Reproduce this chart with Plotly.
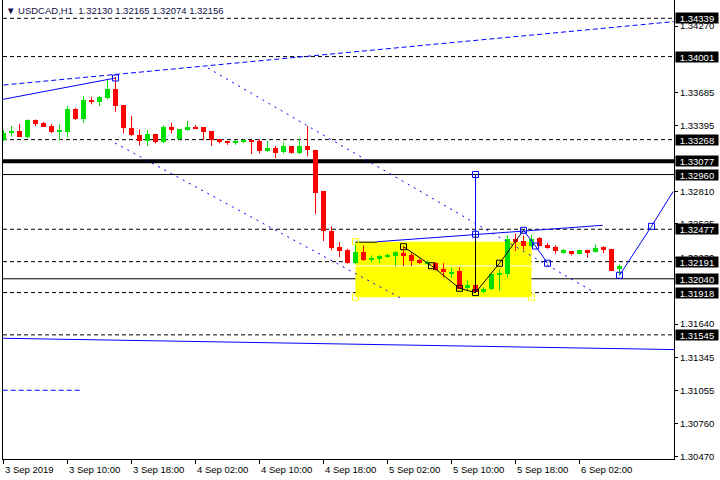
import plotly.graph_objects as go

# ---------------- candle data (USDCAD H1) ----------------
opens = [1.33264, 1.33323, 1.33343, 1.33293, 1.33441, 1.33414, 1.33388, 1.33340, 1.33337, 1.33538,
         1.33450, 1.33618, 1.33600, 1.33638, 1.33715, 1.33574, 1.33370, 1.33308, 1.33252, 1.33317,
         1.33243, 1.33376, 1.33275, 1.33355, 1.33379, 1.33379, 1.33346, 1.33273, 1.33258, 1.33244,
         1.33243, 1.33258, 1.33258, 1.33169, 1.33190, 1.33158, 1.33211, 1.33151, 1.33211, 1.33175,
         1.32815, 1.32458, 1.32319, 1.32290, 1.32178, 1.32275, 1.32208, 1.32217, 1.32231, 1.32237,
         1.32270, 1.32246, 1.32202, 1.32172, 1.32178, 1.32122, 1.32089, 1.32113, 1.31957, 1.31981,
         1.31921, 1.31948, 1.32069, 1.32084, 1.32394, 1.32373, 1.32326, 1.32396, 1.32337, 1.32319,
         1.32266, 1.32281, 1.32261, 1.32290, 1.32275, 1.32319, 1.32299, 1.32130]
highs = [1.33352, 1.33388, 1.33405, 1.33447, 1.33446, 1.33426, 1.33405, 1.33405, 1.33565, 1.33550,
         1.33653, 1.33647, 1.33653, 1.33795, 1.33821, 1.33574, 1.33476, 1.33358, 1.33352, 1.33317,
         1.33394, 1.33417, 1.33361, 1.33432, 1.33396, 1.33379, 1.33346, 1.33273, 1.33258, 1.33264,
         1.33270, 1.33261, 1.33270, 1.33258, 1.33211, 1.33243, 1.33211, 1.33273, 1.33388, 1.33175,
         1.32815, 1.32503, 1.32364, 1.32305, 1.32350, 1.32335, 1.32246, 1.32252, 1.32261, 1.32281,
         1.32328, 1.32275, 1.32217, 1.32202, 1.32187, 1.32178, 1.32137, 1.32142, 1.32025, 1.31981,
         1.31965, 1.32078, 1.32122, 1.32423, 1.32438, 1.32423, 1.32429, 1.32408, 1.32358, 1.32335,
         1.32305, 1.32281, 1.32299, 1.32296, 1.32343, 1.32328, 1.32304, 1.32165]
lows = [1.33255, 1.33293, 1.33290, 1.33279, 1.33388, 1.33379, 1.33326, 1.33264, 1.33288, 1.33441,
        1.33417, 1.33580, 1.33567, 1.33624, 1.33514, 1.33323, 1.33299, 1.33217, 1.33213, 1.33235,
        1.33235, 1.33323, 1.33264, 1.33346, 1.33361, 1.33264, 1.33213, 1.33235, 1.33222, 1.33222,
        1.33235, 1.33140, 1.33146, 1.33160, 1.33104, 1.33146, 1.33144, 1.33140, 1.33118, 1.32609,
        1.32373, 1.32290, 1.32231, 1.32172, 1.32172, 1.32197, 1.32187, 1.32178, 1.32226, 1.32151,
        1.32151, 1.32151, 1.32172, 1.32166, 1.32113, 1.32054, 1.32049, 1.31950, 1.31936, 1.31918,
        1.31916, 1.31943, 1.31936, 1.32049, 1.32284, 1.32296, 1.32319, 1.32326, 1.32305, 1.32261,
        1.32261, 1.32246, 1.32255, 1.32226, 1.32270, 1.32266, 1.32109, 1.32074]
closes = [1.33328, 1.33343, 1.33293, 1.33441, 1.33405, 1.33381, 1.33337, 1.33345, 1.33535, 1.33450,
          1.33618, 1.33600, 1.33642, 1.33715, 1.33567, 1.33367, 1.33305, 1.33252, 1.33317, 1.33243,
          1.33376, 1.33352, 1.33361, 1.33379, 1.33370, 1.33337, 1.33264, 1.33249, 1.33240, 1.33248,
          1.33261, 1.33252, 1.33169, 1.33196, 1.33151, 1.33211, 1.33151, 1.33211, 1.33180, 1.32797,
          1.32461, 1.32308, 1.32284, 1.32178, 1.32275, 1.32202, 1.32226, 1.32240, 1.32249, 1.32275,
          1.32237, 1.32196, 1.32178, 1.32190, 1.32119, 1.32098, 1.32098, 1.31951, 1.31981, 1.31924,
          1.31951, 1.32078, 1.32089, 1.32394, 1.32364, 1.32326, 1.32394, 1.32328, 1.32308, 1.32284,
          1.32290, 1.32255, 1.32290, 1.32275, 1.32314, 1.32296, 1.32113, 1.32156]
bar_index = list(range(len(opens)))

xtick_bars = [0, 8, 16, 24, 32, 40, 48, 56, 64, 72]
xtick_labels = ["3 Sep 2019", "3 Sep 10:00", "3 Sep 18:00", "4 Sep 02:00", "4 Sep 10:00",
                "4 Sep 18:00", "5 Sep 02:00", "5 Sep 10:00", "5 Sep 18:00", "6 Sep 02:00"]
ytick_values = [1.34270, 1.33685, 1.33395, 1.32810, 1.32525, 1.32230,
                1.31640, 1.31345, 1.31055, 1.30760, 1.30470]

# horizontal levels (with price boxes on the axis)
level_prices = [1.34339, 1.34001, 1.33268, 1.33077, 1.32960, 1.32477, 1.32191, 1.32040, 1.31918, 1.31545]
solid_levels = [1.32960, 1.32040]
thick_levels = [1.33077]

# drawing objects (bar index, price)
left_solid_bars, left_solid_prices = [-1, 14], [1.33611, 1.33812]
long_dash_bars, long_dash_prices = [0, 84], [1.33750, 1.34311]
upper_chan_bars, upper_chan_prices = [25.56, 73.56], [1.33900, 1.31932]
lower_chan_bars, lower_chan_prices = [13.94, 49.56], [1.33238, 1.31873]
wedge_black_bars, wedge_black_prices = [44, 46.7], [1.32363, 1.32363]
wedge_bars, wedge_prices = [46.7, 74.9], [1.32367, 1.32512]
vert_blue_bars, vert_blue_prices = [59, 59], [1.32960, 1.32433]
vert_black_bars, vert_black_prices = [59, 59], [1.32433, 1.31918]
zigzag_bars = [50, 53.5, 57, 59, 62, 65]
zigzag_prices = [1.32323, 1.32155, 1.31956, 1.31918, 1.32177, 1.32468]
blue_leg_bars, blue_leg_prices = [65, 66.5, 68], [1.32468, 1.32329, 1.32177]
proj_bars, proj_prices = [77, 81, 83.7], [1.32071, 1.32503, 1.32810]
bottom_line_bars, bottom_line_prices = [-1, 84], [1.31516, 1.31415]
short_dash_bars, short_dash_prices = [-0.1, 9.9], [1.31056, 1.31056]
box_bars = [44, 66]
box_top_prices = [1.32157, 1.32367]
box_bottom_prices = [1.31877, 1.32148]

blue_sq_bars = [14, 59, 59, 65, 66.5, 68, 77, 81]
blue_sq_prices = [1.33812, 1.32960, 1.32433, 1.32468, 1.32329, 1.32177, 1.32071, 1.32503]
black_sq_bars = [50, 53.5, 57, 59, 62]
black_sq_prices = [1.32323, 1.32155, 1.31956, 1.31918, 1.32177]
yellow_sq_bars = [44, 44, 66]
yellow_sq_prices = [1.32367, 1.31877, 1.31877]

header = "\u25bc USDCAD,H1 \u00a01.32130 1.32165 1.32074 1.32156"

# ---------------- figure ----------------
UP = "#00e000"
DOWN = "#ff0000"
BLUE = "#0000ff"
FONT = "Liberation Sans, Arial, sans-serif"
MIN_BODY = 0.00009

fig = go.Figure()

for color, is_up in ((UP, True), (DOWN, False)):
    idx = [i for i in bar_index if (closes[i] >= opens[i]) == is_up]
    fig.add_trace(go.Bar(
        x=idx,
        base=[min(opens[i], closes[i]) for i in idx],
        y=[max(abs(closes[i] - opens[i]), MIN_BODY) for i in idx],
        width=0.62, marker=dict(color=color, line=dict(width=0)),
        hoverinfo="skip"))
    wx, wy = [], []
    for i in idx:
        wx += [i, i, None]
        wy += [lows[i], highs[i], None]
    fig.add_trace(go.Scatter(x=wx, y=wy, mode="lines", line=dict(color=color, width=1),
                             hoverinfo="skip"))


def add_line(xs, ys, color, dash="solid", width=1):
    fig.add_trace(go.Scatter(x=xs, y=ys, mode="lines",
                             line=dict(color=color, width=width, dash=dash), hoverinfo="skip"))


add_line(left_solid_bars, left_solid_prices, BLUE)
add_line(long_dash_bars, long_dash_prices, BLUE, "5px,3px")
add_line(upper_chan_bars, upper_chan_prices, BLUE, "2px,5px")
add_line(lower_chan_bars, lower_chan_prices, BLUE, "2px,5px")
add_line(wedge_black_bars, wedge_black_prices, "black")
add_line(wedge_bars, wedge_prices, BLUE)
add_line(vert_blue_bars, vert_blue_prices, BLUE)
add_line(vert_black_bars, vert_black_prices, "black")
add_line(zigzag_bars, zigzag_prices, "black")
add_line(blue_leg_bars, blue_leg_prices, BLUE)
add_line(proj_bars, proj_prices, BLUE)
add_line(bottom_line_bars, bottom_line_prices, BLUE)
add_line(short_dash_bars, short_dash_prices, BLUE, "5px,3px")

for xs, ys, col in ((blue_sq_bars, blue_sq_prices, BLUE),
                    (black_sq_bars, black_sq_prices, "black"),
                    (yellow_sq_bars, yellow_sq_prices, "#ffff00")):
    fig.add_trace(go.Scatter(x=xs, y=ys, mode="markers",
                             marker=dict(symbol="square-open", size=6, color=col,
                                         line=dict(width=1, color=col)),
                             hoverinfo="skip"))

shapes = []
for lo_hi in (box_top_prices, box_bottom_prices):
    shapes.append(dict(type="rect", xref="x", yref="y", x0=box_bars[0], x1=box_bars[1],
                       y0=lo_hi[0], y1=lo_hi[1], fillcolor="#ffff00", line=dict(width=0),
                       layer="below"))
for p in level_prices:
    if p in thick_levels:
        ln = dict(color="black", width=4)
    elif p in solid_levels:
        ln = dict(color="black", width=1)
    else:
        ln = dict(color="black", width=1, dash="4px,3px")
    shapes.append(dict(type="line", xref="paper", yref="y", x0=0, x1=1, y0=p, y1=p,
                       line=ln, layer="below"))

annotations = []
for b, lab in zip(xtick_bars, xtick_labels):
    annotations.append(dict(x=b, y=0, xref="x", yref="paper", text=lab, showarrow=False,
                            xanchor="left", yanchor="middle", yshift=-10, xshift=-1,
                            font=dict(family=FONT, size=9.5, color="black")))
for p in level_prices:
    annotations.append(dict(x=1, y=p, xref="paper", yref="y", text=f"{p:.5f}", showarrow=False,
                            xanchor="left", yanchor="middle", xshift=1, bgcolor="black",
                            borderpad=0, width=42, height=10,
                            font=dict(family=FONT, size=9.5, color="white")))
annotations.append(dict(x=0, y=1, xref="paper", yref="paper", text=header, showarrow=False,
                        xanchor="left", yanchor="top", xshift=1, yshift=-3,
                        font=dict(family=FONT, size=9.5, color="#10104a")))

fig.update_layout(
    width=720, height=480,
    margin=dict(l=3, r=46, t=0, b=21),
    plot_bgcolor="white", paper_bgcolor="white",
    showlegend=False, barmode="overlay", bargap=0,
    shapes=shapes, annotations=annotations,
    xaxis=dict(range=[-0.0625, 83.8125], showgrid=False, zeroline=False, showline=True,
               linecolor="black", linewidth=1, ticks="outside", ticklen=4, tickcolor="black",
               tickvals=xtick_bars, showticklabels=False, fixedrange=True),
    yaxis=dict(range=[1.304493, 1.345005], side="right", showgrid=False, zeroline=False,
               showline=True, mirror=True, linecolor="black", linewidth=1,
               ticks="outside", ticklen=3, tickcolor="black",
               tickvals=ytick_values, ticktext=[f"{v:.5f}" for v in ytick_values],
               tickfont=dict(family=FONT, size=9.5, color="black"), fixedrange=True),
)

fig.write_html("out.html", config={"displayModeBar": False},
               post_script="document.body.style.margin='0';document.body.style.overflow='hidden';")
